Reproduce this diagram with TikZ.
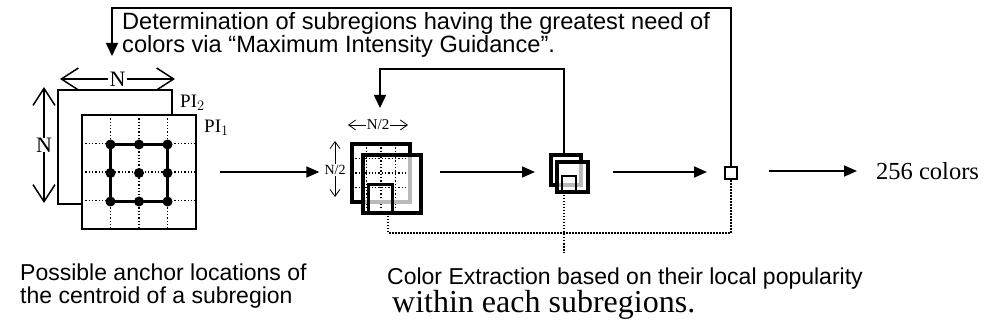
\documentclass[tikz,border=0pt]{standalone}
\usepackage{fontspec}
\setmainfont{Liberation Serif}
\setsansfont{Liberation Sans}
\usetikzlibrary{arrows.meta}

\begin{document}
\begin{tikzpicture}[x=1pt,y=-1pt,
  flow/.style={line width=1.7pt,-{Triangle[length=13pt,width=11pt]}},
  feedback/.style={line width=1.5pt,-{Triangle[length=13pt,width=12pt]}},
  dotline/.style={line width=1.5pt,dash pattern=on 1.5pt off 1.5pt},
  griddots/.style={line width=1.3pt,dash pattern=on 1.3pt off 2pt},
  dimarrow/.style={line width=1.5pt,{Straight Barb[length=17pt,width=22pt]}-{Straight Barb[length=17pt,width=22pt]}},
  smalldim/.style={line width=0.8pt,{Straight Barb[length=7pt,width=10pt]}-{Straight Barb[length=7pt,width=10pt]}},
  halfdim/.style={line width=0.8pt,-{Straight Barb[length=7pt,width=10pt]}},
  plane/.style={draw,line width=1.6pt,fill=white,minimum width=114pt,minimum height=114pt,inner sep=0pt,outer sep=0pt},
  win/.style={draw,inner sep=0pt,outer sep=0pt},
  sanstext/.style={font=\sffamily\fontsize{23}{26}\selectfont,anchor=base west,inner sep=0pt},
  headtext/.style={font=\sffamily\fontsize{23.6}{26}\selectfont,anchor=base west,inner sep=0pt},
  serifbig/.style={font=\fontsize{32}{34}\selectfont,anchor=base west,inner sep=0pt},
  dimlabel/.style={font=\fontsize{22}{23}\selectfont,fill=white,inner sep=1.5pt},
]
\useasboundingbox (0,0) rectangle (988,331);
\coordinate (axis) at (0,172);

% ---------- candidate anchor grid on two image planes ----------
\node[plane] (pi2) at (115,147) {};
\node[plane] (pi1) at (139,172) {};
\foreach \k in {1,2,3}{
  \draw[griddots] ([xshift=\k*28.5pt]pi1.north west) -- ([xshift=\k*28.5pt]pi1.south west);
  \draw[griddots] ([yshift=-\k*28.5pt]pi1.north west) -- ([yshift=-\k*28.5pt]pi1.north east);
}
\draw[line width=2.6pt] (110.5,144.5) rectangle (167.5,201.5);
\foreach \x in {110.5,139,167.5}
  \foreach \y in {144.5,173,201.5}
    \fill (\x,\y) circle (5pt);
\node[font=\fontsize{19}{20}\selectfont,anchor=west,inner sep=0pt] (lpi2) at (180,103) {PI$_2$};
\node[font=\fontsize{19}{20}\selectfont,anchor=west,inner sep=0pt] (lpi1) at (204,128) {PI$_1$};
\draw[dimarrow] (60,79) -- (175,79) node[dimlabel,midway] (nh) {N};
\draw[dimarrow] (44,87) -- (44,203) node[dimlabel,midway,inner sep=0pt,fill=white] (nv) {N};

% ---------- windows of size N/2 ----------
\foreach \k in {1,2,3}{
  \draw[griddots,line width=1.1pt] (352+\k*14.5,144) -- (352+\k*14.5,210);
  \draw[griddots,line width=1.1pt] (352,144+\k*14.5) -- (410,144+\k*14.5);
}
\node[win,line width=4pt,minimum width=58pt,minimum height=58pt] (m1) at (381,173) {};
\draw[gray!55,line width=4pt] (410,155) -- (410,202) -- (363,202);
\node[win,line width=4pt,minimum width=58pt,minimum height=58pt] (m2) at (392,184) {};
\node[win,line width=3pt,minimum width=24pt,minimum height=28pt] (m3) at (380,199) {};
\draw[smalldim] (348,125) -- (408,125) node[midway,fill=white,inner sep=1pt,font=\fontsize{15}{16}\selectfont] (nh2) {N/2};
\node[font=\fontsize{14}{15}\selectfont,inner sep=1pt] (nv2) at (335,170) {N/2};
\draw[halfdim] (nv2.north) -- (335,141);
\draw[halfdim] (nv2.south) -- (335,197);

% ---------- windows of size N/4 ----------
\node[win,line width=3.2pt,minimum width=30pt,minimum height=30pt] (t1) at (566,170) {};
\draw[gray!55,line width=3.2pt] (581,162) -- (581,185) -- (557,185);
\node[win,line width=3.2pt,minimum width=31pt,minimum height=30pt] (t2) at (572.5,177) {};
\node[win,line width=2.6pt,minimum width=14pt,minimum height=16pt] (t3) at (569,184) {};

% ---------- single window ----------
\node[win,line width=2.6pt,minimum width=12pt,minimum height=12pt] (s4) at (731,173) {};

% ---------- main flow ----------
\draw[flow] ([xshift=24pt]pi1.east |- axis) -- ([xshift=-4pt]nv2.west |- axis);
\draw[flow] ([xshift=19pt]m2.east |- axis) -- ([xshift=-16pt]t1.west |- axis);
\draw[flow] ([xshift=25pt]t2.east |- axis) -- ([xshift=-18pt]s4.west |- axis);
\node[font=\fontsize{24.5}{27}\selectfont,anchor=west,inner sep=0pt] (out) at (876,171) {256 colors};
\draw[flow] ([xshift=32pt]s4.east |- out.west) -- ([xshift=-19pt]out.west);

% ---------- feedback of the greatest-need subregions ----------
\coordinate (fbtop) at (112,8);
\draw[feedback] (s4.north) -- (s4.north |- fbtop) -- (fbtop) -- (112,56);
\coordinate (fbmid) at (380,69);
\draw[feedback] (564,155) -- (564,69) -- (fbmid) -- (380,108);
\node[headtext] (topa) at (122,30) {Determination of subregions having the greatest need of};
\node[headtext] (topb) at (122,53) {colors via “Maximum Intensity Guidance”.};

% ---------- colour extraction links ----------
\coordinate (ce) at (0,233);
\draw[dotline] (388,213) -- (388,233) -- (s4.south |- ce) -- (s4.south);
\draw[dotline] (564,192) -- (564,253);

% ---------- captions ----------
\node[sanstext] (capa) at (20,280) {Possible anchor locations of};
\node[sanstext] (capb) at (20,303) {the centroid of a subregion};
\node[sanstext] (cea) at (387,284) {Color Extraction based on their local popularity};
\node[serifbig] (ceb) at (392,312) {within each subregions.};
\end{tikzpicture}
\end{document}
